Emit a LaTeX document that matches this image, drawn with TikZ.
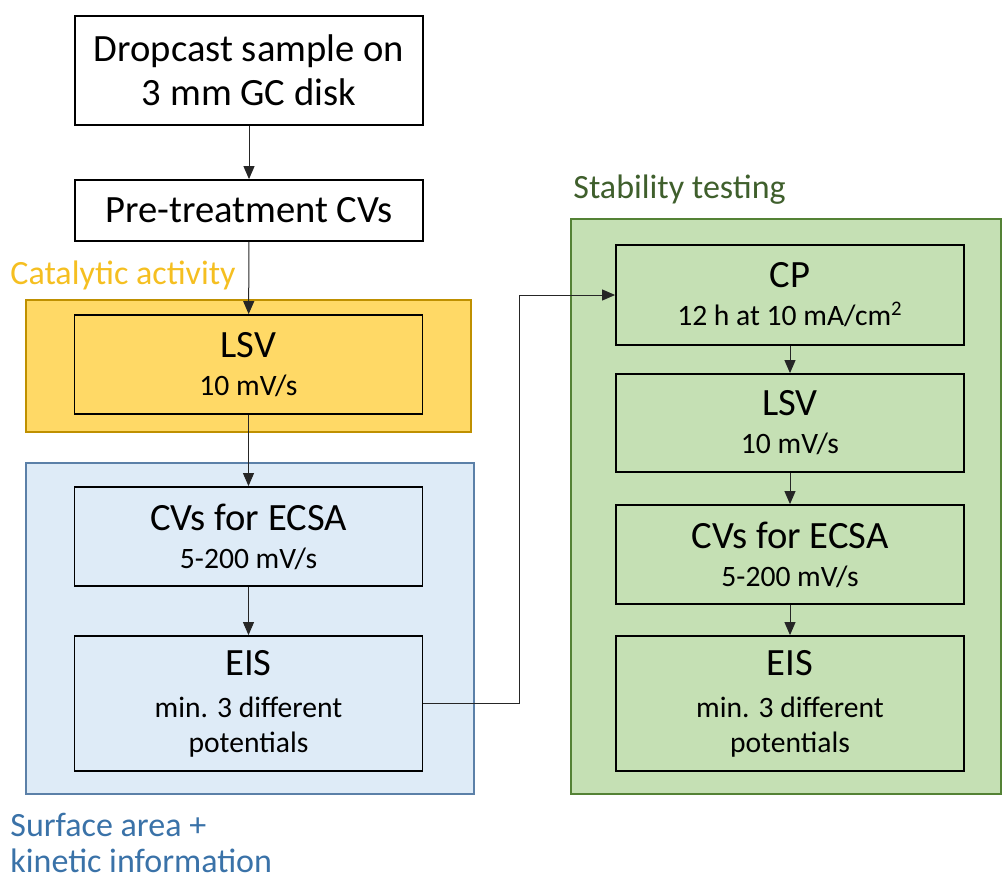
\documentclass[tikz,border=0pt]{standalone}
\usepackage{fontspec}
\setmainfont{Carlito}
\usetikzlibrary{arrows.meta}
\definecolor{goldfill}{HTML}{FFD966}
\definecolor{golddraw}{HTML}{BF9000}
\definecolor{goldtext}{HTML}{F5BF21}
\definecolor{bluefill}{HTML}{DEEBF7}
\definecolor{bluedraw}{HTML}{5B80A8}
\definecolor{bluetext}{HTML}{3A72A8}
\definecolor{greenfill}{HTML}{C5E0B4}
\definecolor{greendraw}{HTML}{548235}
\definecolor{greentext}{HTML}{3F5F2C}
\newcommand{\subline}[1]{{\fontsize{14.8}{17.5}\selectfont #1}}

\begin{document}
\begin{tikzpicture}[x=0.5pt, y=-0.5pt,
  stepbox/.style = {draw, line width=0.9pt, minimum width=174pt, align=center,
    inner sep=0pt, font=\fontsize{19.3}{22}\selectfont},
  group/.style = {line width=0.9pt, minimum width=#1, inner sep=0pt},
  grouplabel/.style = {anchor=base west, inner sep=0pt, align=left,
    font=\fontsize{17}{18}\selectfont},
  flow/.style = {-{Triangle[length=6.5pt, width=5.5pt]}, line width=0.5pt, black!85}]
\useasboundingbox (0,0) rectangle (1003,878);

% group backgrounds
\node [group=222.5pt, minimum height=66pt, fill=goldfill, draw=golddraw] (catbox) at (248.5,366) {};
\node [group=224pt, minimum height=165.5pt, fill=bluefill, draw=bluedraw] (surfbox) at (250,628.5) {};
\node [group=215pt, minimum height=287.5pt, fill=greenfill, draw=greendraw] (stabbox) at (786,506.5) {};

% group labels
\node [grouplabel, text=goldtext] (catlabel) at (10,284) {Catalytic activity};
\node [grouplabel, text=greentext] (stablabel) at (573,198) {Stability testing};
\node [grouplabel, text=bluetext] (surflabel) at (10,872) {Surface area +\\kinetic information};

% left column
\node [stepbox, fill=white, minimum height=54.5pt] (drop) at (249,70.5) {Dropcast sample on\\3 mm GC disk};
\node [stepbox, fill=white, minimum height=30.5pt] (pre) at (249,210.5) {Pre-treatment CVs};
\node [stepbox, fill=goldfill, minimum height=49.5pt] (lsv) at (248.5,364.5) {LSV\\[-3pt]\subline{10 mV/s}};
\node [stepbox, fill=bluefill, minimum height=49.5pt] (cvs) at (248.5,536.5) {CVs for ECSA\\[-3pt]\subline{5-200 mV/s}};
\node [stepbox, fill=bluefill, minimum height=67.5pt] (eis) at (248.5,703.5) {EIS\\[-1pt]\subline{min. 3 different}\\[-4.5pt]\subline{potentials}};

% right column
\node [stepbox, fill=greenfill, minimum height=50pt] (cp) at (790,295) {CP\\[-3pt]\subline{12 h at 10 mA/cm\textsuperscript{2}}};
\node [stepbox, fill=greenfill, minimum height=49pt] (lsvtwo) at (790,423) {LSV\\[-3pt]\subline{10 mV/s}};
\node [stepbox, fill=greenfill, minimum height=49.5pt] (cvstwo) at (790,554.5) {CVs for ECSA\\[-3pt]\subline{5-200 mV/s}};
\node [stepbox, fill=greenfill, minimum height=67.5pt] (eistwo) at (790,703.5) {EIS\\[-1pt]\subline{min. 3 different}\\[-4.5pt]\subline{potentials}};

% connectors
\draw [flow] (drop) -- (pre);
\draw [flow] (pre) -- (lsv);
\draw [flow] (lsv) -- (cvs);
\draw [flow] (cvs) -- (eis);
\draw [flow] (eis.east) -- ++(96,0) |- (cp.west);
\draw [flow] (cp) -- (lsvtwo);
\draw [flow] (lsvtwo) -- (cvstwo);
\draw [flow] (cvstwo) -- (eistwo);
\end{tikzpicture}
\end{document}
